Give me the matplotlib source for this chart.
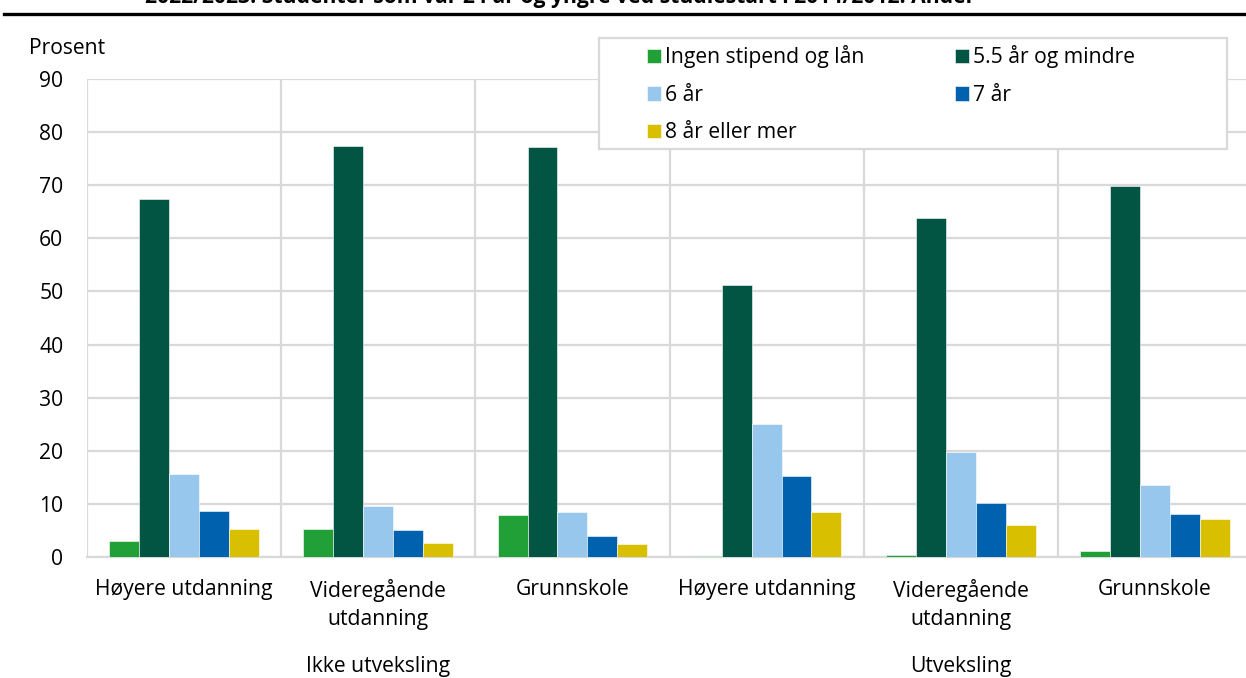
import matplotlib
matplotlib.use("Agg")
import matplotlib.pyplot as plt
import matplotlib.patches as mpatches
from matplotlib.lines import Line2D
import numpy as np

plt.rcParams['font.family'] = ['Open Sans', 'DejaVu Sans']

categories = ["Høyere utdanning", "Videregående\nutdanning", "Grunnskole",
              "Høyere utdanning", "Videregående\nutdanning", "Grunnskole"]
groups = ["Ikke utveksling", "Utveksling"]
series_names = ["Ingen stipend og lån", "5.5 år og mindre", "6 år", "7 år", "8 år eller mer"]
ingen = [3.0, 5.2, 7.9, 0.1, 0.3, 1.1]
aar55 = [67.4, 77.4, 77.2, 51.2, 63.8, 69.9]
aar6 = [15.6, 9.6, 8.5, 25.1, 19.8, 13.5]
aar7 = [8.6, 5.0, 3.9, 15.2, 10.2, 8.1]
aar8 = [5.2, 2.7, 2.5, 8.4, 6.0, 7.1]
colors = ["#21a038", "#025542", "#97c7ec", "#0062ae", "#d8bf00"]
title = "2022/2023. Studenter som var 24 år og yngre ved studiestart i 2014/2012. Andel"

FS = 15.2
W, H = 1246, 678
fig = plt.figure(figsize=(W / 100, H / 100), dpi=100)
ax = fig.add_axes([87 / W, (H - 557) / H, (1252 - 87) / W, (557 - 79) / H])

series = [ingen, aar55, aar6, aar7, aar8]
n = len(series)
bw = 0.154
x = np.arange(len(categories))
handles = []
for i, (vals, c, name) in enumerate(zip(series, colors, series_names)):
    b = ax.bar(x + (i - (n - 1) / 2) * bw, vals, bw, color=c, label=name,
               edgecolor='white', linewidth=0.4, zorder=3)
    handles.append(b)

ax.set_xlim(-0.5, len(categories) - 0.5)
ax.set_ylim(0, 90)
ax.set_yticks(np.arange(0, 91, 10))
ax.set_xticks(x)
ax.set_xticklabels(categories, fontsize=FS, linespacing=1.45)
ax.set_xticks(np.arange(-0.5, len(categories), 1), minor=True)
ax.tick_params(axis='x', which='both', length=0, pad=15.5)
ax.tick_params(axis='y', length=0, pad=17, labelsize=FS)
gc = "#d9d9d9"
ax.grid(axis='y', which='major', color=gc, linewidth=1.6, zorder=0)
ax.grid(axis='x', which='minor', color=gc, linewidth=1.6, zorder=0)
for s in ['top', 'right', 'left']:
    ax.spines[s].set_visible(False)
ax.spines['bottom'].set_color(gc)
ax.spines['bottom'].set_linewidth(1.6)
ax.set_axisbelow(True)

for gi, g in enumerate(groups):
    ax.text(1 + 3 * gi, -0.2285, g, transform=ax.get_xaxis_transform(),
            ha='center', va='center', fontsize=FS)

fig.text(29 / W, 1 - 48.5 / H, "Prosent", ha='left', va='center', fontsize=FS)

# title (cut off at top) and rule
fig.text(145 / W, 1 - 3 / H, title, ha='left', va='baseline', fontsize=FS,
         fontweight='bold')
fig.add_artist(Line2D([4 / W, 1], [1 - 13.5 / H, 1 - 13.5 / H], color='black',
                      linewidth=2.4, transform=fig.transFigure))

# legend box
fig.patches.append(mpatches.Rectangle((599 / W, 1 - 149 / H), (1227 - 599) / W,
                                      (149 - 38) / H, transform=fig.transFigure,
                                      facecolor='white', edgecolor=gc,
                                      linewidth=1.6, zorder=5))
order = [0, 2, 4, 1, 3]
leg = fig.legend([handles[i] for i in order], [series_names[i] for i in order],
                 ncol=2, loc='upper left', bbox_to_anchor=(647 / W, 1 - 45.5 / H),
                 frameon=False, fontsize=FS, handlelength=0.66, handleheight=0.66,
                 handletextpad=0.2, columnspacing=4.3, labelspacing=0.78,
                 borderaxespad=0, borderpad=0)
leg.set_zorder(6)

fig.savefig("out.png", dpi=100)
